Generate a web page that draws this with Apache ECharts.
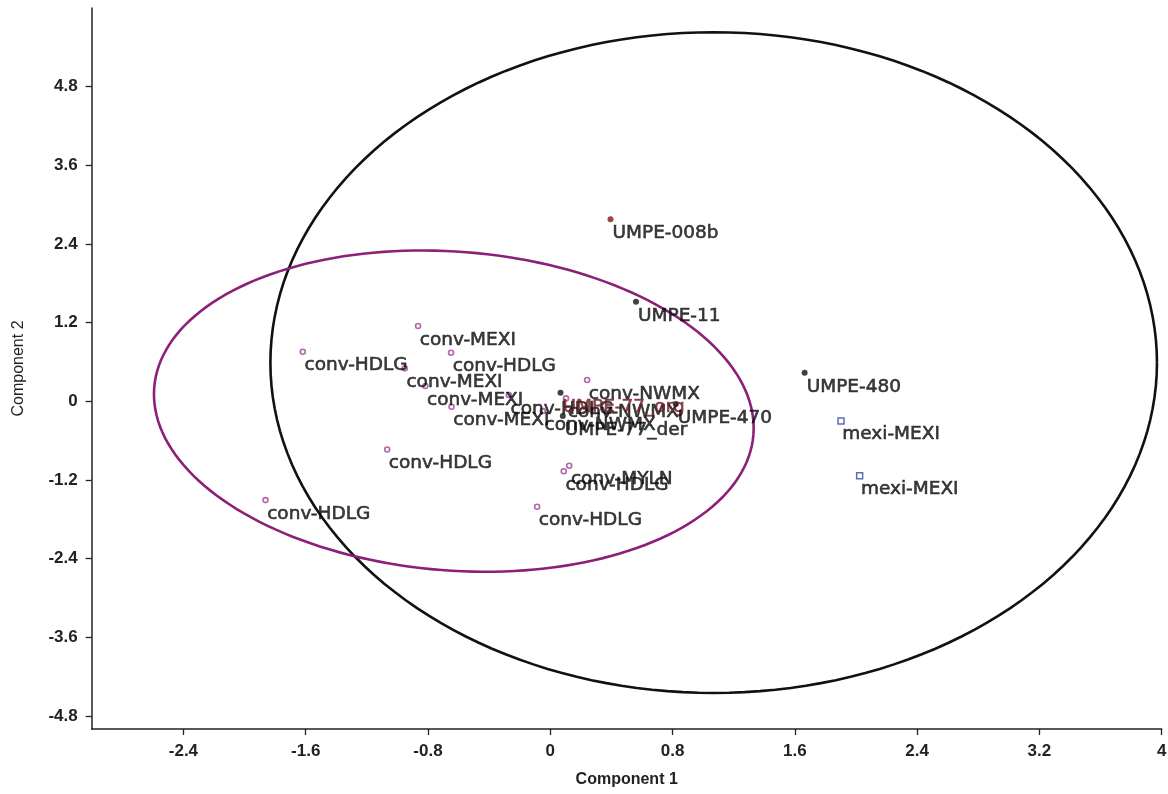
<!DOCTYPE html>
<html>
<head>
<meta charset="utf-8">
<title>PCA scores</title>
<script src="https://cdn.jsdelivr.net/npm/echarts@6/dist/echarts.min.js"></script>
<style>
  html, body { margin: 0; padding: 0; background: #ffffff; }
  #chart { width: 1168px; height: 794px; }
</style>
</head>
<body>
<div id="chart"></div>
<script>
// Axis ticks
const xTicks = [-2.4, -1.6, -0.8, 0, 0.8, 1.6, 2.4, 3.2, 4];
const yTicks = [-4.8, -3.6, -2.4, -1.2, 0, 1.2, 2.4, 3.6, 4.8];

// Conventional samples (open purple circles)
const convNames = ['conv-MEXI', 'conv-HDLG', 'conv-HDLG', 'conv-MEXI', 'conv-MEXI', 'conv-MEXI',
  'conv-HDLG', 'conv-HDLG', 'conv-HDLG', 'conv-MYLN', 'conv-HDLG', 'conv-NWMX', 'conv-NWMX',
  'conv-NWMX', 'conv-HDLG'];
const convX = [-0.865, -1.619, -0.649, -0.952, -0.817, -0.646, -1.067, -1.863, 0.088, 0.124,
  -0.086, 0.241, 0.103, -0.049, -0.271];
const convY = [1.148, 0.756, 0.740, 0.502, 0.232, -0.084, -0.735, -1.508, -1.068, -0.984,
  -1.610, 0.324, 0.044, -0.150, 0.095];

// UMPE accessions (filled dots)
const umpeNames = ['UMPE-008b', 'UMPE-11', 'UMPE-480', 'UMPE-77_org', 'UMPE-470', 'UMPE-77_der'];
const umpeX = [0.394, 0.561, 1.664, 0.067, 0.821, 0.082];
const umpeY = [2.776, 1.519, 0.435, 0.130, -0.043, -0.226];

// Mexican samples (open blue squares)
const mexiNames = ['mexi-MEXI', 'mexi-MEXI'];
const mexiX = [1.902, 2.024];
const mexiY = [-0.302, -1.137];

// Confidence ellipses: centre x, centre y, semi-axis along x, semi-axis along y (data units),
// tilt on screen in degrees (positive = right end lower)
const ellipseConv = [-0.631, -0.150, 1.966, 2.432, 4.5];
const ellipseAll = [1.069, 0.590, 2.900, 5.040, 0];

const labelFont = {
  fontFamily: 'DejaVu Sans', fontSize: 18.5, color: '#0c0c0c',
  textBorderColor: '#0c0c0c', textBorderWidth: 0.6
};

function zip(xs, ys, names) {
  return xs.map((x, i) => ({ value: [x, ys[i]], name: names[i] }));
}

function pointLabel(extra) {
  return Object.assign({
    show: true,
    formatter: p => p.name,
    position: [5, 17],
    align: 'left',
    verticalAlign: 'middle'
  }, labelFont, extra || {});
}

function ellipseItem(params, api) {
  const c = api.coord([api.value(0), api.value(1)]);
  const r = api.size([api.value(2), api.value(3)]);
  const a = api.value(4) * Math.PI / 180;
  const pts = [];
  for (let k = 0; k <= 180; k++) {
    const t = k / 180 * Math.PI * 2;
    const ex = r[0] * Math.cos(t), ey = r[1] * Math.sin(t);
    pts.push([c[0] + ex * Math.cos(a) - ey * Math.sin(a),
              c[1] + ex * Math.sin(a) + ey * Math.cos(a)]);
  }
  return {
    type: 'polyline',
    shape: { points: pts },
    style: { fill: 'none', stroke: api.visual('color'), lineWidth: 2.6 }
  };
}

const chart = echarts.init(document.getElementById('chart'), null, { renderer: 'canvas' });

const axisLabelStyle = { fontFamily: 'Liberation Sans', fontSize: 17, fontWeight: 'bold', color: '#222' };

chart.setOption({
  backgroundColor: '#ffffff',
  animation: false,
  grid: { left: 91.7, right: 6.3, top: 8, bottom: 65, outerBoundsMode: 'none', containLabel: false },
  xAxis: {
    type: 'value', min: -3, max: 4,
    name: 'Component 1', nameLocation: 'middle', nameGap: 43,
    nameTextStyle: { fontFamily: 'Liberation Sans', fontSize: 16, fontWeight: 'bold', color: '#222' },
    axisLine: { onZero: false, lineStyle: { color: '#222', width: 1.5 } },
    axisTick: { show: true, length: 6, customValues: xTicks, lineStyle: { color: '#222', width: 1.3 } },
    axisLabel: Object.assign({ customValues: xTicks, margin: 14 }, axisLabelStyle),
    splitLine: { show: false }
  },
  yAxis: {
    type: 'value', min: -5, max: 6,
    name: 'Component 2', nameLocation: 'middle', nameGap: 65,
    nameTextStyle: { fontFamily: 'Liberation Sans', fontSize: 16, color: '#222' },
    axisLine: { onZero: false, lineStyle: { color: '#222', width: 1.5 } },
    axisTick: { show: true, length: 6, customValues: yTicks, lineStyle: { color: '#222', width: 1.3 } },
    axisLabel: Object.assign({ customValues: yTicks, margin: 14 }, axisLabelStyle),
    splitLine: { show: false }
  },
  series: [
    {
      type: 'custom', name: 'all', renderItem: ellipseItem, clip: false, silent: true,
      itemStyle: { color: '#111111' },
      data: [ellipseAll], z: 1
    },
    {
      type: 'custom', name: 'conv-ellipse', renderItem: ellipseItem, clip: false, silent: true,
      itemStyle: { color: '#8c1f78' },
      data: [ellipseConv], z: 2
    },
    {
      type: 'scatter', name: 'conv', symbol: 'circle', symbolSize: 5,
      itemStyle: { color: '#ffffff', borderColor: '#a0409a', borderWidth: 1.6 },
      label: pointLabel(),
      data: zip(convX, convY, convNames), z: 5
    },
    {
      type: 'scatter', name: 'UMPE', symbol: 'circle', symbolSize: 6,
      itemStyle: { color: '#111111' },
      label: pointLabel(),
      data: zip(umpeX, umpeY, umpeNames).map(d => {
        if (d.name === 'UMPE-008b') d.itemStyle = { color: '#7a1c1c' };
        if (d.name === 'UMPE-77_org') d.label = { color: '#6e1a24', textBorderColor: '#6e1a24' };
        return d;
      }), z: 6
    },
    {
      type: 'scatter', name: 'mexi', symbol: 'rect', symbolSize: 6,
      itemStyle: { color: '#ffffff', borderColor: '#3648a0', borderWidth: 1.5 },
      label: pointLabel(),
      data: zip(mexiX, mexiY, mexiNames), z: 5
    }
  ]
});
</script>
</body>
</html>
